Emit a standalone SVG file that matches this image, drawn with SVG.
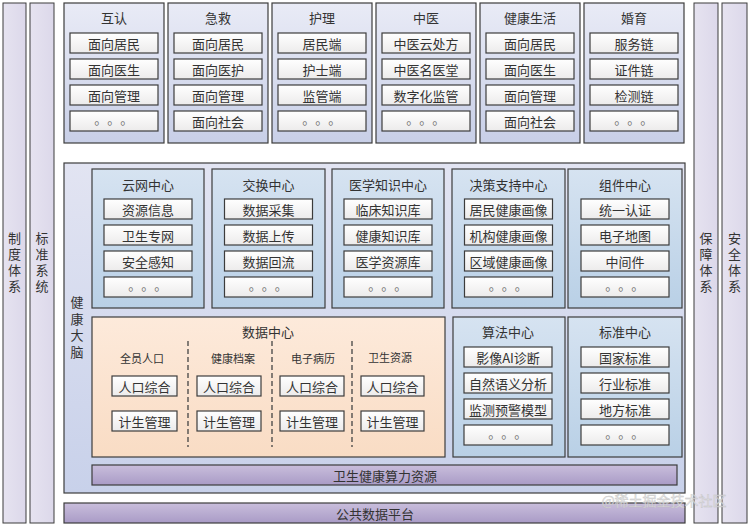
<svg xmlns="http://www.w3.org/2000/svg" width="750" height="526" viewBox="0 0 750 526">
<defs>
<linearGradient id="gSide" x1="0" y1="0" x2="1" y2="0"><stop offset="0" stop-color="#e6e3f0"/><stop offset="1" stop-color="#dcd8ea"/></linearGradient>
<linearGradient id="gTop" x1="0" y1="0" x2="0" y2="1"><stop offset="0" stop-color="#e9ebf6"/><stop offset="1" stop-color="#c8cfe7"/></linearGradient>
<linearGradient id="gBig" x1="0" y1="0" x2="0" y2="1"><stop offset="0" stop-color="#e2e4f2"/><stop offset="1" stop-color="#c8d1ea"/></linearGradient>
<linearGradient id="gMid" x1="0" y1="0" x2="0" y2="1"><stop offset="0" stop-color="#d6e3f1"/><stop offset="1" stop-color="#b9d0e6"/></linearGradient>
<linearGradient id="gData" x1="0" y1="0" x2="0" y2="1"><stop offset="0" stop-color="#fdeadb"/><stop offset="1" stop-color="#f9dcc4"/></linearGradient>
<linearGradient id="gBar" x1="0" y1="0" x2="0" y2="1"><stop offset="0" stop-color="#c9bedc"/><stop offset="1" stop-color="#a99bc6"/></linearGradient>
<linearGradient id="gItem" x1="0" y1="0" x2="0" y2="1"><stop offset="0" stop-color="#ffffff"/><stop offset="1" stop-color="#ecebeb"/></linearGradient>
<style>
text{font-family:"Noto Sans CJK SC","Liberation Sans",sans-serif;fill:#333;text-anchor:middle;dominant-baseline:central}
.side{fill:url(#gSide);stroke:#3c3c3c;stroke-width:1}
.top{fill:url(#gTop);stroke:#3c3c3c;stroke-width:1.2}
.big{fill:url(#gBig);stroke:#3c3c3c;stroke-width:1.2}
.mid{fill:url(#gMid);stroke:#3c3c3c;stroke-width:1.2}
.data{fill:url(#gData);stroke:#3c3c3c;stroke-width:1.2}
.bar{fill:url(#gBar);stroke:#3c3c3c;stroke-width:1.2}
.item{fill:url(#gItem);stroke:#3c3c3c;stroke-width:1.2}
.t{font-size:13px}
.v{font-size:13px;writing-mode:vertical-rl;letter-spacing:3px}
.s{font-size:11px}
.dots{font-size:13px;letter-spacing:6.5px;fill:#777}
.dash{stroke:#444;stroke-width:1.3;stroke-dasharray:5,3;fill:none}
</style>
</defs>

<g id="side-zhidu"><rect class="side" x="3" y="3" width="23" height="520"/><text class="v" x="14.5" y="264">制度体系</text></g>
<g id="side-biaozhun"><rect class="side" x="30" y="3" width="24" height="520"/><text class="v" x="42" y="264">标准系统</text></g>
<g id="side-baozhang"><rect class="side" x="694" y="3" width="24" height="520"/><text class="v" x="706" y="264">保障体系</text></g>
<g id="side-anquan"><rect class="side" x="722" y="3" width="25" height="520"/><text class="v" x="734.5" y="264">安全体系</text></g>

<g id="app-huren"><rect class="top" x="64" y="3" width="100" height="140"/><text class="t" x="114" y="17">互认</text>
<rect class="item" x="70" y="33" width="88" height="20"/><text class="t" x="114" y="43">面向居民</text>
<rect class="item" x="70" y="59" width="88" height="20"/><text class="t" x="114" y="69">面向医生</text>
<rect class="item" x="70" y="85" width="88" height="20"/><text class="t" x="114" y="95">面向管理</text>
<rect class="item" x="70" y="111" width="88" height="20"/><text class="dots" x="117" y="118">。。。</text></g>

<g id="app-jijiu"><rect class="top" x="168" y="3" width="100" height="140"/><text class="t" x="218" y="17">急救</text>
<rect class="item" x="174" y="33" width="88" height="20"/><text class="t" x="218" y="43">面向居民</text>
<rect class="item" x="174" y="59" width="88" height="20"/><text class="t" x="218" y="69">面向医护</text>
<rect class="item" x="174" y="85" width="88" height="20"/><text class="t" x="218" y="95">面向管理</text>
<rect class="item" x="174" y="111" width="88" height="20"/><text class="t" x="218" y="121">面向社会</text></g>

<g id="app-huli"><rect class="top" x="272" y="3" width="100" height="140"/><text class="t" x="322" y="17">护理</text>
<rect class="item" x="278" y="33" width="88" height="20"/><text class="t" x="322" y="43">居民端</text>
<rect class="item" x="278" y="59" width="88" height="20"/><text class="t" x="322" y="69">护士端</text>
<rect class="item" x="278" y="85" width="88" height="20"/><text class="t" x="322" y="95">监管端</text>
<rect class="item" x="278" y="111" width="88" height="20"/><text class="dots" x="325" y="118">。。。</text></g>

<g id="app-zhongyi"><rect class="top" x="376" y="3" width="100" height="140"/><text class="t" x="426" y="17">中医</text>
<rect class="item" x="382" y="33" width="88" height="20"/><text class="t" x="426" y="43">中医云处方</text>
<rect class="item" x="382" y="59" width="88" height="20"/><text class="t" x="426" y="69">中医名医堂</text>
<rect class="item" x="382" y="85" width="88" height="20"/><text class="t" x="426" y="95">数字化监管</text>
<rect class="item" x="382" y="111" width="88" height="20"/><text class="dots" x="429" y="118">。。。</text></g>

<g id="app-jiankang"><rect class="top" x="480" y="3" width="100" height="140"/><text class="t" x="530" y="17">健康生活</text>
<rect class="item" x="486" y="33" width="88" height="20"/><text class="t" x="530" y="43">面向居民</text>
<rect class="item" x="486" y="59" width="88" height="20"/><text class="t" x="530" y="69">面向医生</text>
<rect class="item" x="486" y="85" width="88" height="20"/><text class="t" x="530" y="95">面向管理</text>
<rect class="item" x="486" y="111" width="88" height="20"/><text class="t" x="530" y="121">面向社会</text></g>

<g id="app-hunyu"><rect class="top" x="584" y="3" width="100" height="140"/><text class="t" x="634" y="17">婚育</text>
<rect class="item" x="590" y="33" width="88" height="20"/><text class="t" x="634" y="43">服务链</text>
<rect class="item" x="590" y="59" width="88" height="20"/><text class="t" x="634" y="69">证件链</text>
<rect class="item" x="590" y="85" width="88" height="20"/><text class="t" x="634" y="95">检测链</text>
<rect class="item" x="590" y="111" width="88" height="20"/><text class="dots" x="637" y="118">。。。</text></g>

<g id="brain"><rect class="big" x="64" y="163" width="621" height="330"/>
<text class="v" x="77" y="329" style="letter-spacing:3.7px">健康大脑</text></g>

<g id="c-yunwang"><rect class="mid" x="92" y="169" width="112" height="139"/><text class="t" x="148" y="184">云网中心</text>
<rect class="item" x="104" y="199" width="88" height="20"/><text class="t" x="148" y="209">资源信息</text>
<rect class="item" x="104" y="225" width="88" height="20"/><text class="t" x="148" y="235">卫生专网</text>
<rect class="item" x="104" y="251" width="88" height="20"/><text class="t" x="148" y="261">安全感知</text>
<rect class="item" x="104" y="277" width="88" height="20"/><text class="dots" x="151" y="284">。。。</text></g>

<g id="c-jiaohuan"><rect class="mid" x="212" y="169" width="113" height="139"/><text class="t" x="268.5" y="184">交换中心</text>
<rect class="item" x="224.5" y="199" width="88" height="20"/><text class="t" x="268.5" y="209">数据采集</text>
<rect class="item" x="224.5" y="225" width="88" height="20"/><text class="t" x="268.5" y="235">数据上传</text>
<rect class="item" x="224.5" y="251" width="88" height="20"/><text class="t" x="268.5" y="261">数据回流</text>
<rect class="item" x="224.5" y="277" width="88" height="20"/><text class="dots" x="271.5" y="284">。。。</text></g>

<g id="c-zhishi"><rect class="mid" x="332" y="169" width="112" height="139"/><text class="t" x="388" y="184">医学知识中心</text>
<rect class="item" x="344" y="199" width="88" height="20"/><text class="t" x="388" y="209">临床知识库</text>
<rect class="item" x="344" y="225" width="88" height="20"/><text class="t" x="388" y="235">健康知识库</text>
<rect class="item" x="344" y="251" width="88" height="20"/><text class="t" x="388" y="261">医学资源库</text>
<rect class="item" x="344" y="277" width="88" height="20"/><text class="dots" x="391" y="284">。。。</text></g>

<g id="c-juece"><rect class="mid" x="452" y="169" width="113" height="139"/><text class="t" x="508.5" y="184">决策支持中心</text>
<rect class="item" x="464.5" y="199" width="88" height="20"/><text class="t" x="508.5" y="209">居民健康画像</text>
<rect class="item" x="464.5" y="225" width="88" height="20"/><text class="t" x="508.5" y="235">机构健康画像</text>
<rect class="item" x="464.5" y="251" width="88" height="20"/><text class="t" x="508.5" y="261">区域健康画像</text>
<rect class="item" x="464.5" y="277" width="88" height="20"/><text class="dots" x="511.5" y="284">。。。</text></g>

<g id="c-zujian"><rect class="mid" x="568" y="169" width="114" height="139"/><text class="t" x="625" y="184">组件中心</text>
<rect class="item" x="581" y="199" width="88" height="20"/><text class="t" x="625" y="209">统一认证</text>
<rect class="item" x="581" y="225" width="88" height="20"/><text class="t" x="625" y="235">电子地图</text>
<rect class="item" x="581" y="251" width="88" height="20"/><text class="t" x="625" y="261">中间件</text>
<rect class="item" x="581" y="277" width="88" height="20"/><text class="dots" x="628" y="284">。。。</text></g>

<g id="c-shuju"><rect class="data" x="92" y="317" width="353" height="140"/><text class="t" x="268" y="331">数据中心</text>
<text class="s" x="142" y="358">全员人口</text><text class="s" x="233" y="358">健康档案</text><text class="s" x="313" y="358">电子病历</text><text class="s" x="390" y="357">卫生资源</text>
<rect class="item" x="112" y="376" width="65" height="20"/><text class="t" x="144.5" y="386">人口综合</text>
<rect class="item" x="112" y="411" width="65" height="20"/><text class="t" x="144.5" y="421">计生管理</text>
<rect class="item" x="197" y="376" width="64" height="20"/><text class="t" x="229" y="386">人口综合</text>
<rect class="item" x="197" y="411" width="64" height="20"/><text class="t" x="229" y="421">计生管理</text>
<rect class="item" x="280" y="376" width="64" height="20"/><text class="t" x="312" y="386">人口综合</text>
<rect class="item" x="280" y="411" width="64" height="20"/><text class="t" x="312" y="421">计生管理</text>
<rect class="item" x="361" y="376" width="63" height="20"/><text class="t" x="392.5" y="386">人口综合</text>
<rect class="item" x="361" y="411" width="63" height="20"/><text class="t" x="392.5" y="421">计生管理</text>
<line class="dash" x1="188" y1="341" x2="188" y2="447"/>
<line class="dash" x1="272" y1="341" x2="272" y2="447"/>
<line class="dash" x1="352" y1="341" x2="352" y2="447"/></g>

<g id="c-suanfa"><rect class="mid" x="453" y="317" width="112" height="140"/><text class="t" x="508" y="331">算法中心</text>
<rect class="item" x="464" y="347" width="88" height="20"/><text class="t" x="508" y="357">影像AI诊断</text>
<rect class="item" x="464" y="373" width="88" height="20"/><text class="t" x="508" y="383">自然语义分析</text>
<rect class="item" x="464" y="399" width="88" height="20"/><text class="t" x="508" y="409">监测预警模型</text>
<rect class="item" x="464" y="425" width="88" height="20"/><text class="dots" x="511" y="432">。。。</text></g>

<g id="c-biaozhun"><rect class="mid" x="568" y="317" width="114" height="140"/><text class="t" x="625" y="331">标准中心</text>
<rect class="item" x="581" y="347" width="88" height="20"/><text class="t" x="625" y="357">国家标准</text>
<rect class="item" x="581" y="373" width="88" height="20"/><text class="t" x="625" y="383">行业标准</text>
<rect class="item" x="581" y="399" width="88" height="20"/><text class="t" x="625" y="409">地方标准</text>
<rect class="item" x="581" y="425" width="88" height="20"/><text class="dots" x="628" y="432">。。。</text></g>

<g id="bar-suanli"><rect class="bar" x="92" y="465" width="585" height="20"/><text class="t" x="385" y="475">卫生健康算力资源</text></g>
<g id="bar-gonggong"><rect class="bar" x="64" y="503" width="621" height="20"/><text class="t" x="375" y="513">公共数据平台</text></g>

<g id="connectors"></g>

<text x="664" y="500" style="font-size:14px;fill:#e6e6e6;stroke:#bdbdbd;stroke-width:0.4;opacity:0.85">@稀土掘金技术社区</text>
</svg>
